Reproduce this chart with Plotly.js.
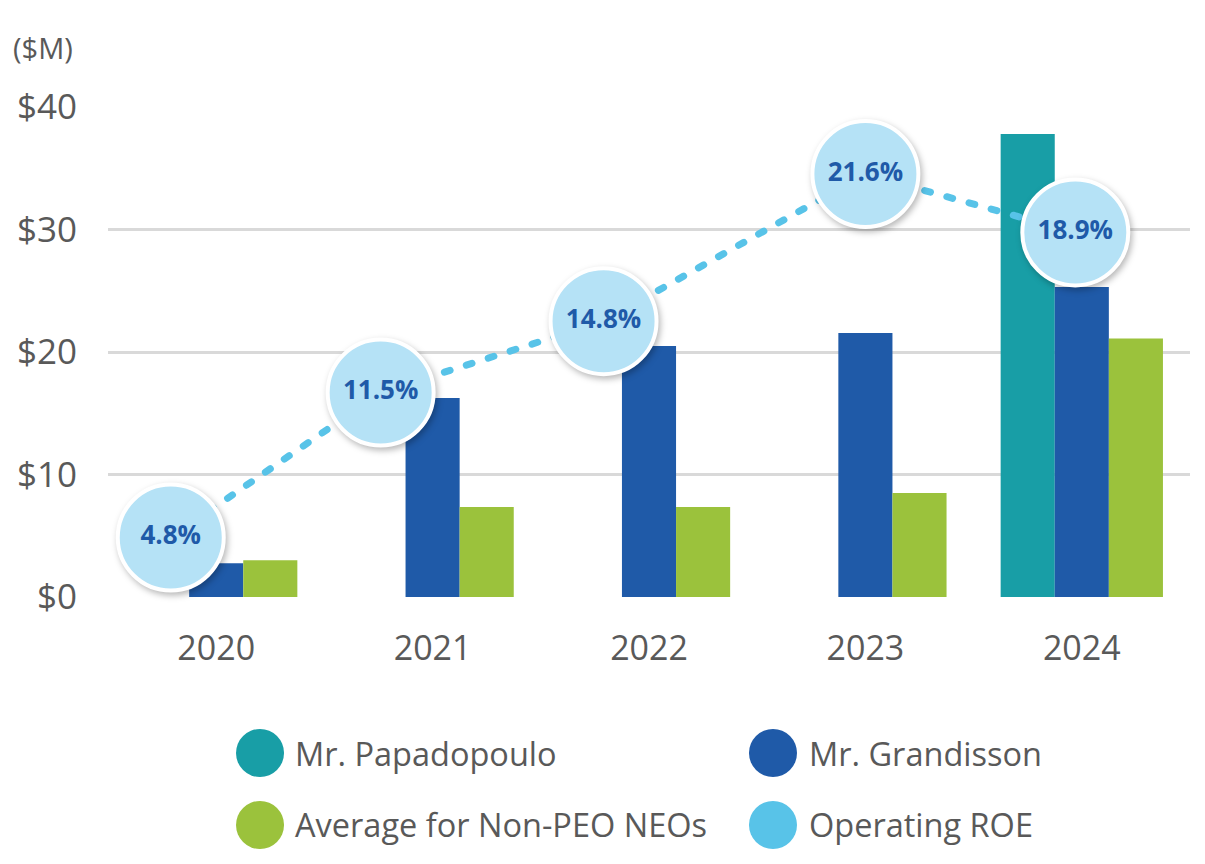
<!DOCTYPE html>
<html>
<head>
<meta charset="utf-8">
<script src="https://cdn.plot.ly/plotly-3.0.1.min.js"></script>
<style>
  html, body { margin: 0; padding: 0; background: #fff; }
  #chart { width: 1205px; height: 864px; }
  .js-plotly-plot .scatterlayer .js-line { stroke-linecap: round; }
  .js-plotly-plot .scatterlayer .point { filter: drop-shadow(2px 3px 3px rgba(0,0,0,0.28)); }
</style>
</head>
<body>
<div id="chart"></div>
<script>
// ---- data ----
const years = ['2020', '2021', '2022', '2023', '2024'];
const papadopoulo = [null, null, null, null, 37.8];
const grandisson = [2.75, 16.25, 20.5, 21.55, 25.3];
const nonPeoAvg = [3.0, 7.35, 7.35, 8.5, 21.1];
const operatingRoe = [4.8, 11.5, 14.8, 21.6, 18.9];
const roeLabels = ['4.8%', '11.5%', '14.8%', '21.6%', '18.9%'];
const yTickVals = [0, 10, 20, 30, 40];
const yTickText = ['$0', '$10', '$20', '$30', '$40'];
const legendNames = ['Mr. Papadopoulo', 'Mr. Grandisson', 'Average for Non-PEO NEOs', 'Operating ROE'];

// ---- style ----
const C_TEAL = '#189ea6', C_BLUE = '#1f5aa8', C_GREEN = '#9bc23c', C_LINE = '#58c3e8', C_BUBBLE = '#b5e2f6';
const TXT = '#595959';
const FONT = 'Open Sans, Noto Sans, sans-serif';
const ROE_NUDGE = [-0.21, -0.24, -0.21, 0.0, -0.03]; // horizontal placement of bubbles (category units)
const roeX = years.map((y, i) => i + ROE_NUDGE[i]);

const traces = [
  { type: 'bar', x: years, y: papadopoulo, name: legendNames[0], marker: { color: C_TEAL, line: { width: 0 } }, hoverinfo: 'skip' },
  { type: 'bar', x: years, y: grandisson, name: legendNames[1], marker: { color: C_BLUE, line: { width: 0 } }, hoverinfo: 'skip' },
  { type: 'bar', x: years, y: nonPeoAvg, name: legendNames[2], marker: { color: C_GREEN, line: { width: 0 } }, hoverinfo: 'skip' },
  { type: 'scatter', mode: 'lines', x: roeX, y: operatingRoe, xaxis: 'x2', yaxis: 'y2',
    line: { color: C_LINE, width: 7, dash: '6px,17px' }, cliponaxis: false, hoverinfo: 'skip', name: legendNames[3] },
  { type: 'scatter', mode: 'markers+text', x: roeX, y: operatingRoe, xaxis: 'x2', yaxis: 'y2',
    marker: { size: 106, color: C_BUBBLE, line: { color: '#ffffff', width: 4 } },
    text: roeLabels, textposition: 'middle center',
    textfont: { family: FONT, size: 26, color: C_BLUE, weight: 700 },
    cliponaxis: false, hoverinfo: 'skip', name: legendNames[3] }
];

// legend drawn as shapes + annotations (large circular swatches)
const legendPos = [
  { cx: 0.1405, tx: 0.171, y: -0.3184, color: C_TEAL },
  { cx: 0.6146, tx: 0.646, y: -0.3184, color: C_BLUE },
  { cx: 0.1405, tx: 0.171, y: -0.4653, color: C_GREEN },
  { cx: 0.6146, tx: 0.646, y: -0.4653, color: C_LINE }
];
const shapes = legendPos.map(p => ({
  type: 'circle', xref: 'paper', yref: 'paper', xsizemode: 'pixel', ysizemode: 'pixel',
  xanchor: p.cx, yanchor: p.y, x0: -24, x1: 24, y0: -24, y1: 24,
  fillcolor: p.color, line: { width: 0 }
}));
const annotations = legendPos.map((p, i) => ({
  xref: 'paper', yref: 'paper', x: p.tx, y: p.y, xanchor: 'left', yanchor: 'middle',
  text: legendNames[i], showarrow: false, font: { family: FONT, size: 32.5, color: TXT }
}));
annotations.push({
  xref: 'paper', yref: 'paper', x: -0.09, y: 1.1224, xanchor: 'left', yanchor: 'middle',
  text: '($M)', showarrow: false, font: { family: FONT, size: 29, color: TXT }
});

const layout = {
  width: 1205, height: 864,
  margin: { l: 108, r: 15, t: 107, b: 267 },
  paper_bgcolor: '#ffffff', plot_bgcolor: '#ffffff',
  showlegend: false,
  barmode: 'group', bargap: 0.25, bargroupgap: 0,
  font: { family: FONT, color: TXT },
  xaxis: { type: 'category', showgrid: false, zeroline: false, showline: false, ticks: '',
    tickfont: { family: FONT, size: 34, color: TXT }, ticklabelstandoff: 28, fixedrange: true },
  xaxis2: { overlaying: 'x', range: [-0.5, 4.5], visible: false, fixedrange: true },
  yaxis: { range: [0, 40], tickvals: yTickVals, ticktext: yTickText, showgrid: true,
    gridcolor: '#d9d9d9', gridwidth: 3, zeroline: false, showline: false, ticks: '',
    tickfont: { family: FONT, size: 35, color: TXT }, ticklabelstandoff: 30, fixedrange: true },
  yaxis2: { overlaying: 'y', range: [2.05, 24.70], visible: false, fixedrange: true },
  shapes: shapes,
  annotations: annotations
};

Plotly.newPlot('chart', traces, layout, { displayModeBar: false, staticPlot: true });
</script>
</body>
</html>
